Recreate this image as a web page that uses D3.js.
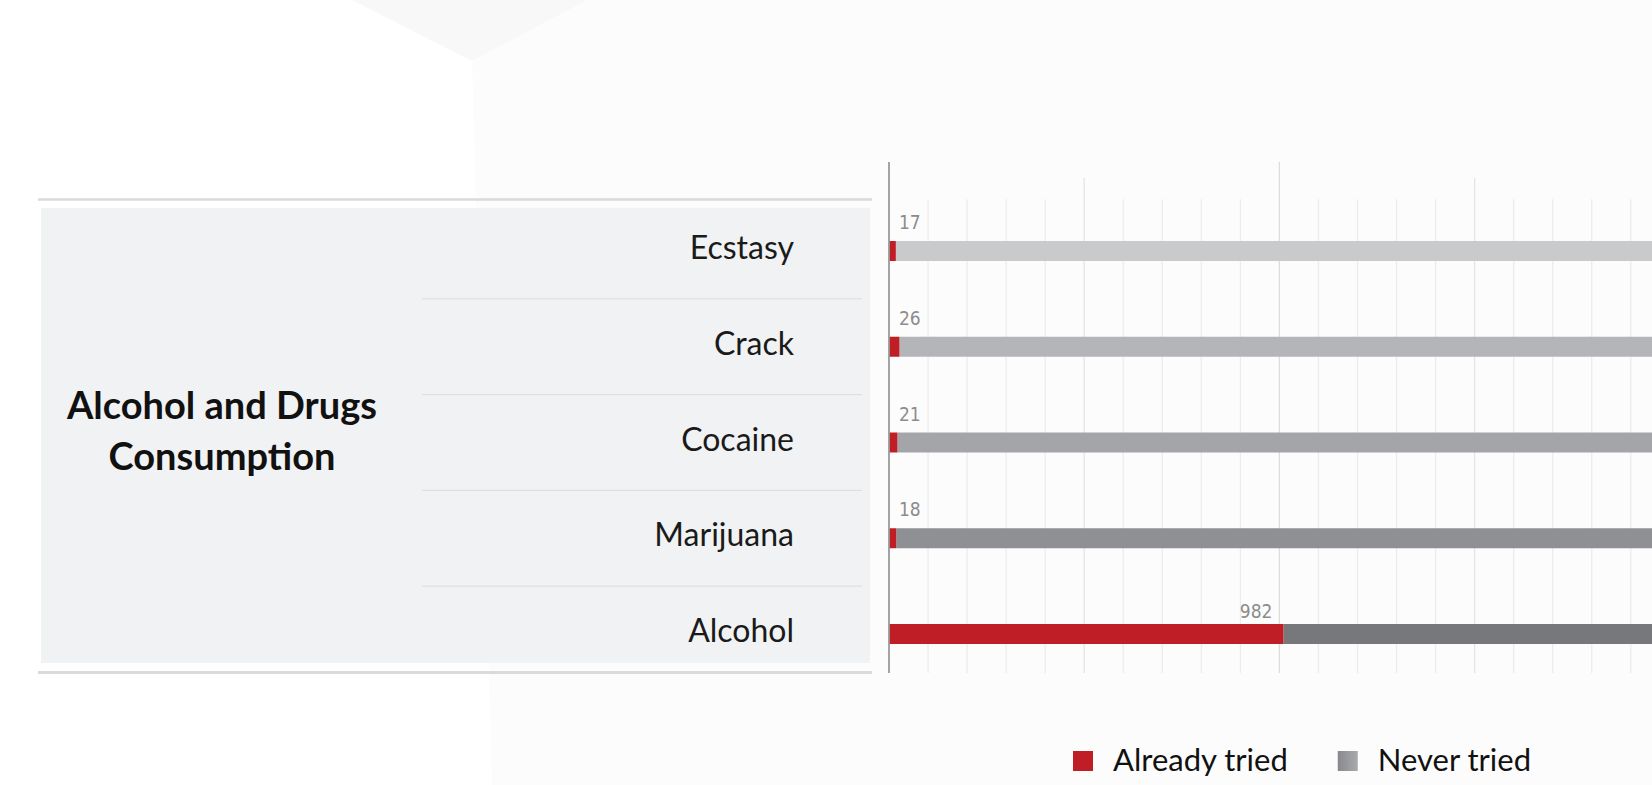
<!DOCTYPE html>
<html>
<head>
<meta charset="utf-8">
<script src="https://cdn.jsdelivr.net/npm/d3@7"></script>
<style>
  html, body { margin: 0; padding: 0; background: #ffffff; }
  svg { display: block; }
</style>
</head>
<body>
<svg id="chart" width="1652" height="785"></svg>
<script>
// ---------- data ----------
const categories   = ["Ecstasy", "Crack", "Cocaine", "Marijuana", "Alcohol"];
const alreadyTried = [17, 26, 21, 18, 982];
const neverTried   = [1927, 1918, 1923, 1926, 962];
const seriesNames  = ["Already tried", "Never tried"];
const chartTitle   = ["Alcohol and Drugs", "Consumption"];
const gridTicks    = d3.range(0, 101, 5);   // percent grid

// ---------- styles ----------
const W = 1652, H = 785;
const red = "#c01e26";
const grayShades = ["#c9cacc", "#b4b5b8", "#a4a5a9", "#8f9094", "#77787c"];
const numFont = "'Liberation Sans Narrow','DejaVu Sans Condensed','Roboto Condensed',sans-serif";

const svg = d3.select("#chart");

// faint background facets
const defs = svg.append("defs");
const lg = defs.append("linearGradient").attr("id", "legGray")
  .attr("x1", "0%").attr("x2", "100%");
lg.append("stop").attr("offset", "0%").attr("stop-color", "#88898d");
lg.append("stop").attr("offset", "100%").attr("stop-color", "#a9aaad");

svg.append("rect").attr("width", W).attr("height", H).attr("fill", "#ffffff");
svg.append("path").attr("d", "M472,61 L492,785 L1652,785 L1652,0 L587,0 Z").attr("fill", "#fcfcfc");
svg.append("path").attr("d", "M352,0 L472,61 L587,0 Z").attr("fill", "#f8f8f8");

// ---------- scales ----------
const x = d3.scaleLinear().domain([0, 100]).range([889, 1669.8]);
const y = d3.scalePoint().domain(categories).range([251, 634]);
const barH = 20;

const rows = categories.map((c, i) => {
  const total = alreadyTried[i] + neverTried[i];
  return {
    cat: c, i,
    tried: alreadyTried[i], never: neverTried[i],
    pTried: alreadyTried[i] / total * 100,
    pNever: neverTried[i] / total * 100
  };
});

// ---------- left panel ----------
const panelX0 = 41, panelX1 = 870, panelY0 = 208, panelY1 = 663;
svg.append("rect")
  .attr("x", panelX0).attr("y", panelY0)
  .attr("width", panelX1 - panelX0).attr("height", panelY1 - panelY0)
  .attr("fill", "#f1f2f3");
svg.append("line").attr("x1", 38).attr("x2", 872).attr("y1", 199.5).attr("y2", 199.5)
  .attr("stroke", "#dadada").attr("stroke-width", 2.5);
svg.append("line").attr("x1", 38).attr("x2", 872).attr("y1", 672.5).attr("y2", 672.5)
  .attr("stroke", "#dadada").attr("stroke-width", 3);

// separators between categories
const seps = categories.slice(0, -1).map((c, i) => (y(c) + y(categories[i + 1])) / 2);
svg.append("g").selectAll("line").data(seps).join("line")
  .attr("x1", 422).attr("x2", 862)
  .attr("y1", d => d).attr("y2", d => d)
  .attr("stroke", "#dcdcdc").attr("stroke-width", 1);

// title
const title = svg.append("text")
  .attr("x", 222).attr("y", 419)
  .attr("text-anchor", "middle")
  .attr("font-family", "Lato, sans-serif")
  .attr("font-weight", 700)
  .attr("font-size", 38)
  .attr("fill", "#111111");
title.selectAll("tspan").data(chartTitle).join("tspan")
  .attr("x", 222).attr("dy", (d, i) => i === 0 ? 0 : 51)
  .text(d => d);

// category labels
svg.append("g").selectAll("text").data(rows).join("text")
  .attr("x", 794).attr("y", d => y(d.cat) + 8)
  .attr("text-anchor", "end")
  .attr("font-family", "Lato, sans-serif")
  .attr("font-size", 32)
  .attr("fill", "#1a1a1a")
  .text(d => d.cat);

// ---------- grid ----------
const gTop = t => (t % 50 === 0 ? 162 : (t % 25 === 0 ? 178 : 199.3));
svg.append("g").selectAll("line").data(gridTicks.filter(t => t > 0)).join("line")
  .attr("x1", d => x(d)).attr("x2", d => x(d))
  .attr("y1", d => gTop(d)).attr("y2", 673)
  .attr("stroke", d => d % 50 === 0 ? "#dcdcdc" : (d % 25 === 0 ? "#e4e4e4" : "#ececec"))
  .attr("stroke-width", 1.3);

// ---------- bars ----------
const bars = svg.append("g");
bars.selectAll("rect.never").data(rows).join("rect")
  .attr("class", "never")
  .attr("x", d => x(d.pTried)).attr("y", d => y(d.cat) - barH / 2)
  .attr("width", d => x(d.pTried + d.pNever) - x(d.pTried)).attr("height", barH)
  .attr("fill", d => grayShades[d.i]);
bars.selectAll("rect.tried").data(rows).join("rect")
  .attr("class", "tried")
  .attr("x", x(0)).attr("y", d => y(d.cat) - barH / 2)
  .attr("width", d => x(d.pTried) - x(0)).attr("height", barH)
  .attr("fill", red);

// axis line
svg.append("line").attr("x1", x(0)).attr("x2", x(0)).attr("y1", 162).attr("y2", 673)
  .attr("stroke", "#9a9a9a").attr("stroke-width", 1.8);

// value labels
svg.append("g").selectAll("text").data(rows).join("text")
  .attr("x", d => (x(d.pTried) - x(0) > 40) ? x(d.pTried) - 11 : x(0) + 10)
  .attr("y", d => (x(d.pTried) - x(0) > 40) ? y(d.cat) - barH / 2 - 6 : y(d.cat) - barH / 2 - 12)
  .attr("text-anchor", d => (x(d.pTried) - x(0) > 40) ? "end" : "start")
  .attr("font-family", numFont)
  .attr("font-size", 19)
  .attr("fill", "#8c8c8c")
  .text(d => d.tried);

// ---------- legend ----------
const legend = svg.append("g");
let lx = 1073;
seriesNames.forEach((name, i) => {
  legend.append("rect").attr("x", lx).attr("y", 751).attr("width", 20).attr("height", 20)
    .attr("fill", i === 0 ? red : "url(#legGray)");
  const t = legend.append("text").attr("x", lx + 40).attr("y", 771)
    .attr("font-family", "Lato, sans-serif").attr("font-size", 31)
    .attr("fill", "#111111").text(name);
  lx = lx + 40 + t.node().getComputedTextLength() + 50;
});
</script>
</body>
</html>
